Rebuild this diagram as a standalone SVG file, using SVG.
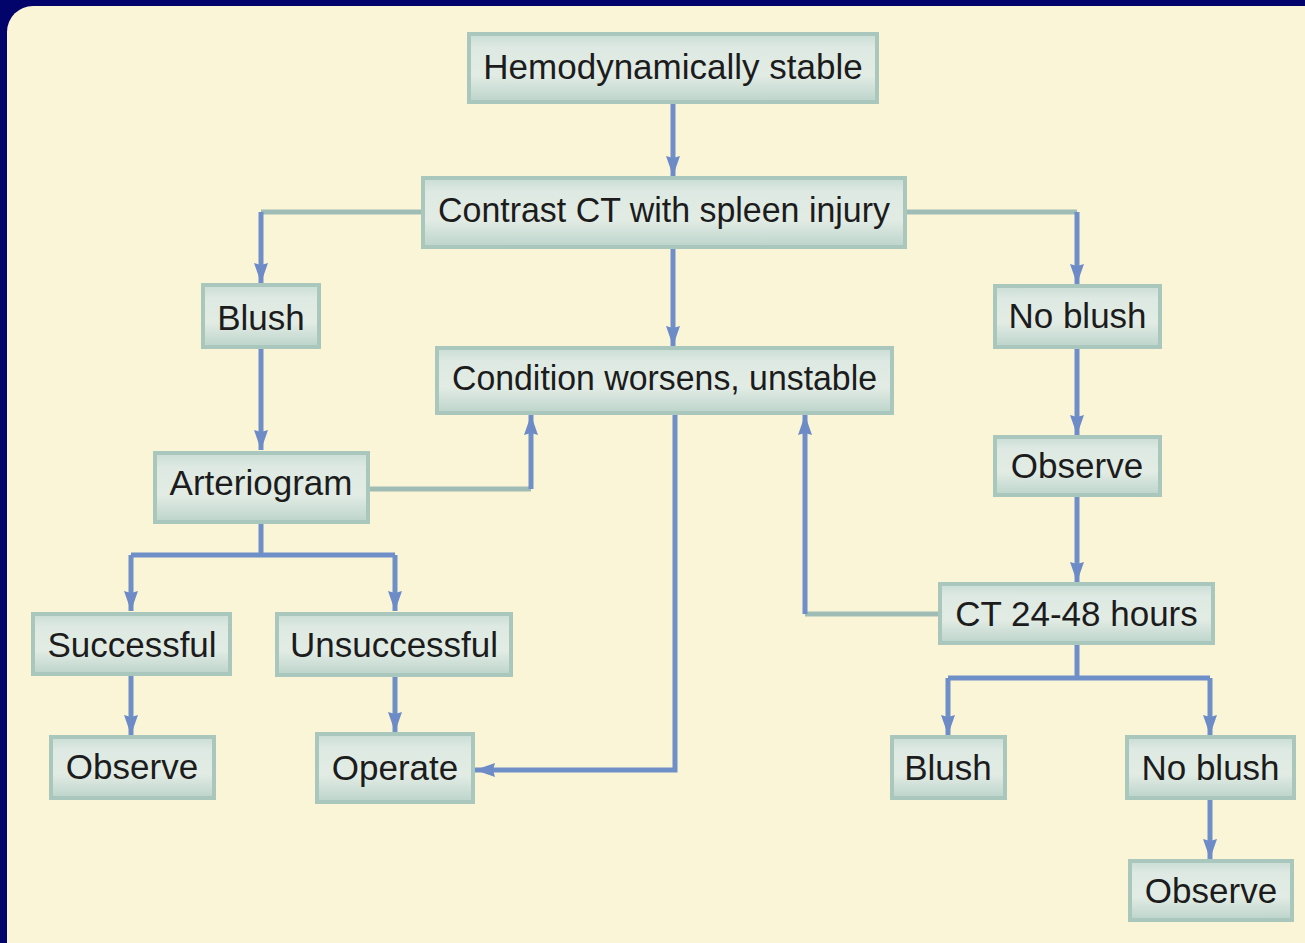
<svg xmlns="http://www.w3.org/2000/svg" width="1305" height="943" viewBox="0 0 1305 943">
<defs>
<linearGradient id="boxGrad" x1="0" y1="0" x2="0" y2="1">
<stop offset="0" stop-color="#c9ddd4"/>
<stop offset="0.2" stop-color="#dde9e2"/>
<stop offset="0.6" stop-color="#e2ece5"/>
<stop offset="1" stop-color="#bcd4ca"/>
</linearGradient>
<marker id="arr" viewBox="-24 -9 26 18" markerWidth="26" markerHeight="18" refX="0" refY="0" orient="auto" markerUnits="userSpaceOnUse">
<path d="M0,0 L-20,-7 L-18,0 L-20,7 Z" fill="#6d8cc7"/>
</marker>
<style>
.node rect{fill:url(#boxGrad);stroke:#a9c7bc;stroke-width:4}
.node text{font-family:"Liberation Sans",Arial,sans-serif;font-size:35px;fill:#1c1c1c;text-anchor:middle}
.c{fill:none;stroke:#6f8fc8;stroke-width:5;stroke-linejoin:miter}
.g{fill:none;stroke:#9fbdb4;stroke-width:5}
.a{marker-end:url(#arr)}
</style>
</defs>
<rect x="0" y="0" width="1305" height="943" fill="#03036c"/>
<rect x="7" y="6" width="1340" height="980" rx="26" fill="#fbf5d8"/>

<g id="connectors">
<path class="c a" d="M673,102 V176"/>
<path class="g" d="M423,212 H261"/>
<path class="c a" d="M261,212 V283"/>
<path class="g" d="M905,212 H1077"/>
<path class="c a" d="M1077,212 V284"/>
<path class="c a" d="M673,247 V346"/>
<path class="c a" d="M261,347 V450"/>
<path class="g" d="M368,489 H531"/>
<path class="c a" d="M531,489 V415"/>
<path class="c" d="M261,522 V555"/>
<path class="c a" d="M131,555 H395 M131,555 V611"/>
<path class="c a" d="M395,555 V611"/>
<path class="c a" d="M131,674 V735"/>
<path class="c a" d="M395,675 V732"/>
<path class="c a" d="M675,413 V770 H475"/>
<path class="c a" d="M1077,347 V435"/>
<path class="c a" d="M1077,495 V582"/>
<path class="g" d="M940,614 H805"/>
<path class="c a" d="M805,614 V415"/>
<path class="c" d="M1077,643 V678"/>
<path class="c a" d="M948,678 H1210 M948,678 V735"/>
<path class="c a" d="M1210,678 V735"/>
<path class="c a" d="M1210,798 V859"/>
</g>

<g id="n-hemo" class="node"><rect x="469" y="34" width="408" height="68"/><text x="673" y="79">Hemodynamically stable</text></g>
<g id="n-contrast" class="node"><rect x="423" y="178" width="482" height="69"/><text x="664" y="222" textLength="452" lengthAdjust="spacingAndGlyphs">Contrast CT with spleen injury</text></g>
<g id="n-condition" class="node"><rect x="437" y="348" width="455" height="65"/><text x="664.5" y="390" textLength="425" lengthAdjust="spacingAndGlyphs">Condition worsens, unstable</text></g>
<g id="n-blush1" class="node"><rect x="203" y="285" width="116" height="62"/><text x="261" y="330">Blush</text></g>
<g id="n-arterio" class="node"><rect x="155" y="453" width="213" height="69"/><text x="261" y="495">Arteriogram</text></g>
<g id="n-success" class="node"><rect x="33" y="614" width="197" height="60"/><text x="132" y="657">Successful</text></g>
<g id="n-unsuccess" class="node"><rect x="277" y="614" width="234" height="61"/><text x="394" y="657">Unsuccessful</text></g>
<g id="n-observe1" class="node"><rect x="51" y="737" width="163" height="61"/><text x="132" y="779">Observe</text></g>
<g id="n-operate" class="node"><rect x="317" y="734" width="156" height="68"/><text x="395" y="780">Operate</text></g>
<g id="n-noblush1" class="node"><rect x="995" y="286" width="165" height="61"/><text x="1077.5" y="328">No blush</text></g>
<g id="n-observe2" class="node"><rect x="995" y="437" width="165" height="58"/><text x="1077" y="478">Observe</text></g>
<g id="n-ct2448" class="node"><rect x="940" y="584" width="273" height="59"/><text x="1076.5" y="626">CT 24-48 hours</text></g>
<g id="n-blush2" class="node"><rect x="892" y="737" width="113" height="61"/><text x="948" y="780">Blush</text></g>
<g id="n-noblush2" class="node"><rect x="1127" y="737" width="167" height="61"/><text x="1210.5" y="780">No blush</text></g>
<g id="n-observe3" class="node"><rect x="1130" y="861" width="162" height="59"/><text x="1211" y="903">Observe</text></g>
</svg>
